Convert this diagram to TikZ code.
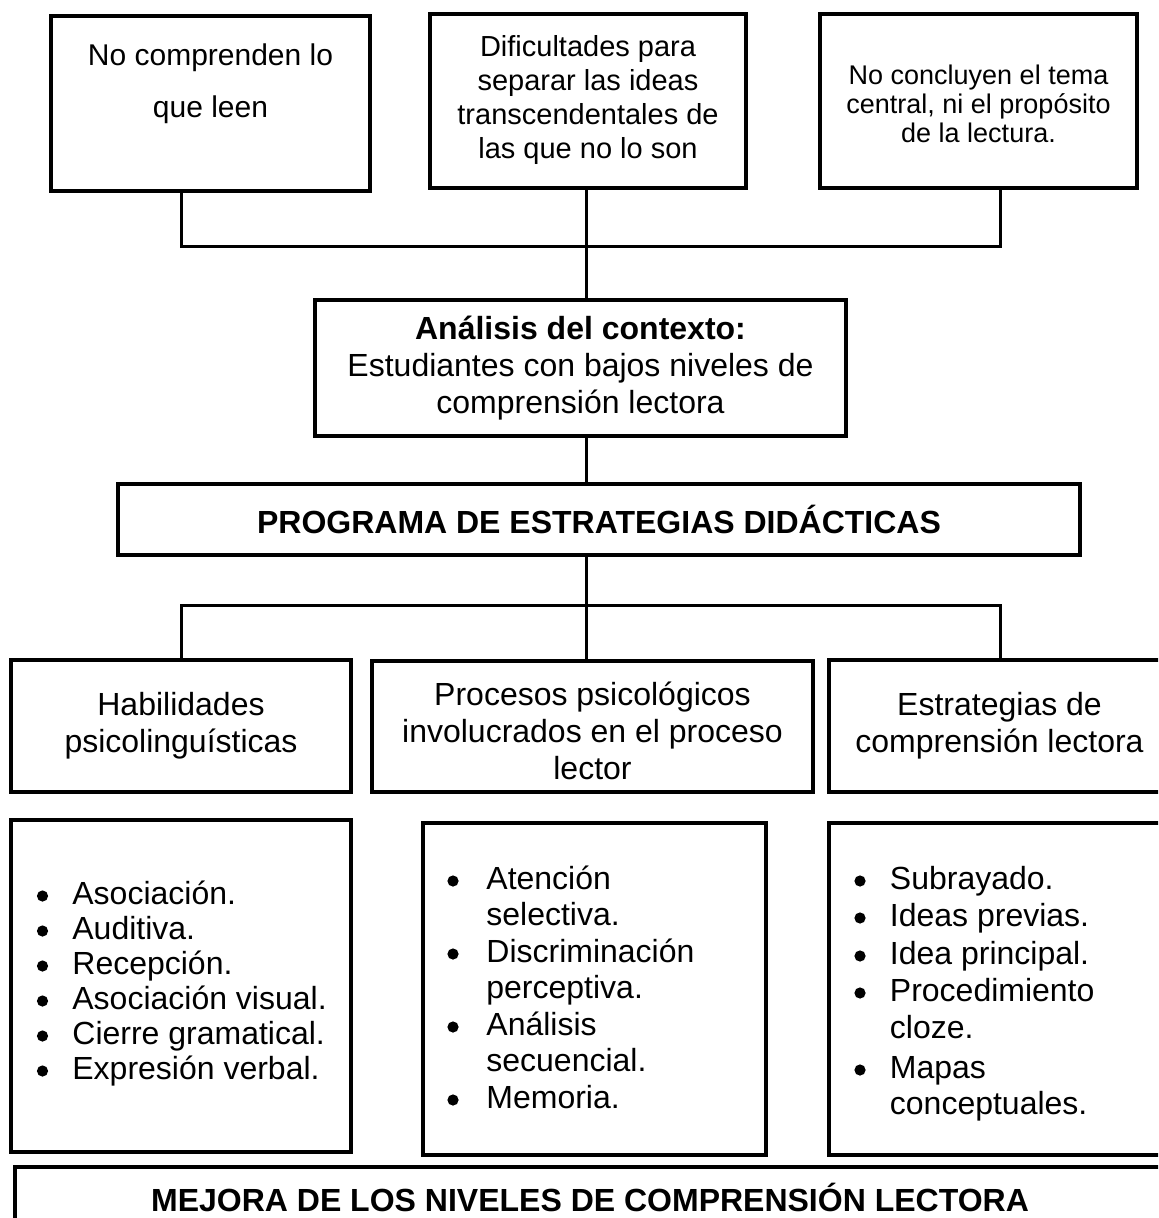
\documentclass[tikz,border=0pt]{standalone}
\usepackage{fontspec}
\setmainfont{Liberation Sans}
\begin{document}
\begin{tikzpicture}[x=0.5pt,y=-0.5pt,
  box/.style={draw, line width=2pt, inner sep=0pt, align=center},
  conn/.style={line width=1.5pt},
  txt/.style={inner sep=0pt, align=center},
  big/.style={font=\fontsize{16}{18.5}\selectfont},
  bigb/.style={font=\fontsize{16}{18.5}\selectfont\bfseries},
  item/.style={inner sep=0pt, anchor=base west, font=\fontsize{16}{18.5}\selectfont},
  dot/.style={fill=black}]
\useasboundingbox (0,0) rectangle (1158,1218);
\clip (0,0) rectangle (1158,1218);

% top boxes
\node[box, minimum width=159.5pt, minimum height=87.5pt] (b1) at (210.5,103.5) {};
\node[box, minimum width=158pt, minimum height=87pt] (b2) at (588,101) {};
\node[box, minimum width=158.5pt, minimum height=87pt] (b3) at (978.5,101) {};
\node[txt, font=\fontsize{15}{26}\selectfont] (t1) at (210.5,84) {No comprenden lo\\que leen};
\node[txt, font=\fontsize{14.5}{17}\selectfont] (t2) at (588,100) {Dificultades para\\separar las ideas\\transcendentales de\\las que no lo son};
\node[txt, font=\fontsize{13.5}{14.6}\selectfont] (t3) at (978.5,104) {No concluyen el tema\\central, ni el propósito\\de la lectura.};

% middle
\node[box, big, minimum width=265.5pt, minimum height=68pt] (an) at (580.5,368)
  {\textbf{Análisis del contexto:}\\Estudiantes con bajos niveles de\\comprensión lectora};
\node[box, bigb, minimum width=481pt, minimum height=35.5pt] (pr) at (599,519.5)
  {PROGRAMA DE ESTRATEGIAS DIDÁCTICAS};

% row 3
\node[box, big, minimum width=170pt, minimum height=66pt] (hab) at (181,726)
  {Habilidades\\psicolinguísticas};
\node[box, minimum width=220.5pt, minimum height=65.5pt] (pro) at (592.5,726.5) {};
\node[txt, big] (prt) at (592.5,731) {Procesos psicológicos\\involucrados en el proceso\\lector};
\node[box, big, minimum width=170.5pt, minimum height=66pt] (est) at (999.5,726)
  {Estrategias de\\comprensión lectora};

% row 4
\node[box, minimum width=170pt, minimum height=166pt] (la) at (181,986) {};
\node[box, minimum width=171.5pt, minimum height=166pt] (lb) at (594.5,989) {};
\node[box, minimum width=170.5pt, minimum height=166pt] (lc) at (999.5,989) {};

% bottom
\node[box, minimum width=577.5pt, minimum height=46.5pt] (me) at (592.5,1213.5) {};
\node[txt, bigb] (mt) at (590,1197) {MEJORA DE LOS NIVELES DE COMPRENSIÓN LECTORA};

% list A
\node[item] (a1) at (72,904) {Asociación.};
\node[item] (a2) at (72,939) {Auditiva.};
\node[item] (a3) at (72,974) {Recepción.};
\node[item] (a4) at (72,1009) {Asociación visual.};
\node[item] (a5) at (72,1044) {Cierre gramatical.};
\node[item] (a6) at (72,1079) {Expresión verbal.};
\foreach \y in {904,939,974,1009,1044,1079}{\fill[dot] (42.5,\y-8) circle[radius=2.8pt];}

% list B
\node[item] (p1) at (486,889) {Atención};
\node[item] (p2) at (486,925.5) {selectiva.};
\node[item] (p3) at (486,962) {Discriminación};
\node[item] (p4) at (486,998.5) {perceptiva.};
\node[item] (p5) at (486,1035) {Análisis};
\node[item] (p6) at (486,1071.5) {secuencial.};
\node[item] (p7) at (486,1108) {Memoria.};
\foreach \y in {889,962,1035,1108}{\fill[dot] (453,\y-8) circle[radius=2.8pt];}

% list C
\node[item] (c1) at (889.5,889) {Subrayado.};
\node[item] (c2) at (889.5,926) {Ideas previas.};
\node[item] (c3) at (889.5,964) {Idea principal.};
\node[item] (c4) at (889.5,1001) {Procedimiento};
\node[item] (c5) at (889.5,1038) {cloze.};
\node[item] (c6) at (889.5,1078) {Mapas};
\node[item] (c7) at (889.5,1114) {conceptuales.};
\foreach \y in {889,926,964,1001,1078}{\fill[dot] (860,\y-8) circle[radius=2.8pt];}

% connectors
\coordinate (cl) at (181,247);
\coordinate (cm) at (586,247);
\coordinate (cr) at (1000,247);
\coordinate (dl) at (181,605);
\coordinate (dm) at (586,605);
\coordinate (dr) at (1000,605);
\draw[conn] (b1.south -| cl) -- (cl) -- (cr) -- (b3.south -| cr);
\draw[conn] (b2.south -| cm) -- (an.north -| cm);
\draw[conn] (an.south -| cm) -- (pr.north -| cm);
\draw[conn] (pr.south -| dm) -- (dm);
\draw[conn] (hab.north -| dl) -- (dl) -- (dr) -- (est.north -| dr);
\draw[conn] (dm) -- (pro.north -| dm);
\end{tikzpicture}
\end{document}
